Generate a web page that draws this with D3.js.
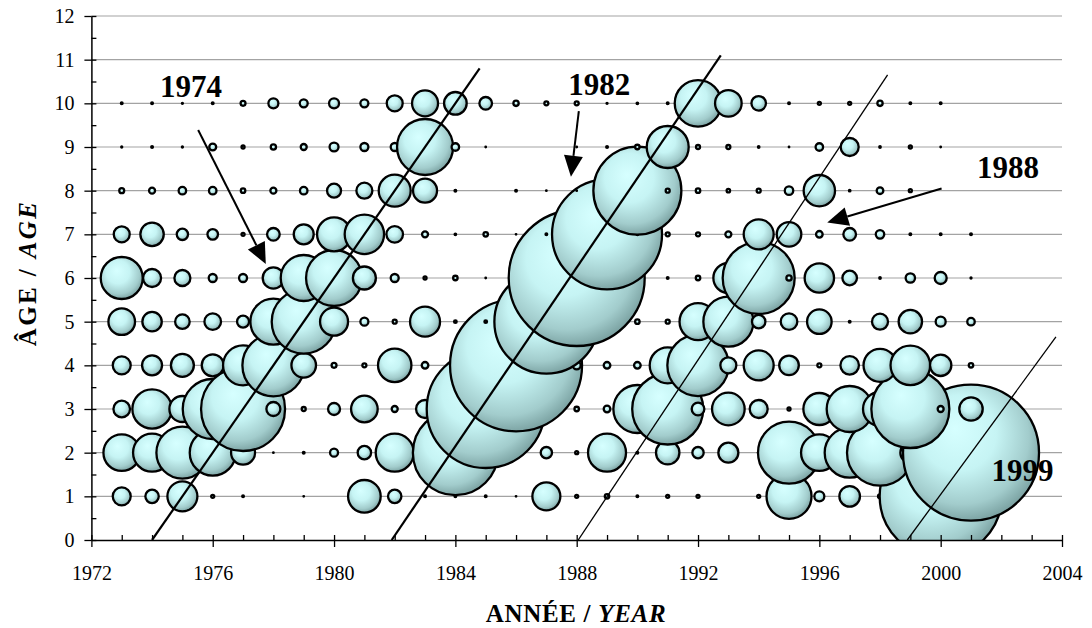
<!DOCTYPE html>
<html>
<head>
<meta charset="utf-8">
<script src="https://cdn.jsdelivr.net/npm/d3@7"></script>
<style>
  body { margin: 0; background: #fff; }
  svg text { font-family: "Liberation Serif", "Times New Roman", serif; fill: #000; }
</style>
</head>
<body>
<div id="chart"></div>
<script>
// years on the x axis, one value per year in each age row
var years = [1973, 1974, 1975, 1976, 1977, 1978, 1979, 1980, 1981, 1982,
             1983, 1984, 1985, 1986, 1987, 1988, 1989, 1990, 1991, 1992,
             1993, 1994, 1995, 1996, 1997, 1998, 1999, 2000, 2001];
var ages = [1, 2, 3, 4, 5, 6, 7, 8, 9, 10];

// bubble sizes (relative abundance)
var age1  = [81, 45, 225, 2.3, 1, 0, 0.5, 0, 266, 45, 1, 1, 1, 0.5, 196, 2.3, 5, 1, 2.3, 2.3, 0, 2.3, 506, 25, 106, 4, 4, 3721, 0];
var age2  = [335, 361, 676, 529, 144, 0.5, 1, 16, 45, 361, 1, 1806, 1, 0, 32, 2.3, 361, 1, 137, 32, 100, 1, 961, 335, 625, 1089, 100, 1, 4624];
var age3  = [69, 388, 169, 900, 1764, 49, 4, 36, 177, 9, 81, 1, 3481, 1, 1, 5, 11, 576, 1260, 40, 266, 81, 2.3, 256, 529, 289, 1521, 9, 137];
var age4  = [81, 100, 132, 121, 400, 961, 151, 6, 4, 279, 11, 1, 1, 4356, 1, 16, 11, 11, 324, 942, 64, 225, 96, 4, 86, 272, 392, 114, 5];
var age5  = [177, 94, 53, 69, 36, 529, 1024, 196, 16, 4, 225, 1.7, 1.7, 1, 2704, 1, 1, 5, 4, 342, 625, 45, 69, 151, 1, 64, 137, 25, 14];
var age6  = [441, 81, 64, 16, 16, 114, 529, 784, 132, 16, 2.3, 5, 0.5, 1, 1, 4624, 1, 1, 1, 5, 225, 1296, 7, 216, 53, 0.9, 22, 36, 0.7];
var age7  = [64, 137, 32, 28, 2.3, 40, 100, 289, 388, 69, 9, 0.9, 5, 0.5, 1, 1, 3025, 1, 4, 4, 9, 225, 151, 11, 40, 18, 1, 1, 1];
var age8  = [6, 9, 14, 14, 5, 9, 14, 49, 64, 256, 144, 1, 0, 1, 0.5, 0.5, 1, 1936, 4, 5, 2.9, 4, 18, 246, 0.9, 11, 2.3, 0, 0];
var age9  = [0.7, 1, 0.7, 12, 2.3, 7, 9, 20, 16, 16, 784, 14, 0.5, 0, 0, 0.5, 1, 5, 441, 4, 4, 0.9, 0.5, 14, 81, 0.9, 2.3, 0.5, 0];
var age10 = [1, 1, 0.7, 1, 6, 25, 16, 25, 16, 64, 169, 128, 40, 7, 4, 4, 0.7, 0.9, 1, 543, 177, 53, 1, 2.3, 2.3, 7, 1, 1, 0];

// year classes followed through the years (start and end as [year, age])
var cohortNames = ["1974", "1982", "1988", "1999"];
var cohortFrom = [[1974, 0], [1981.9, 0], [1988.05, 0], [1998.9, 0]];
var cohortTo   = [[1984.8, 10.8], [1992.75, 11.1], [1998.25, 10.65], [2003.8, 4.65]];

var xMajor = [1972, 1976, 1980, 1984, 1988, 1992, 1996, 2000, 2004];

function drawChart() {
    var width = 1092,
        height = 628;

    var svg = d3.select("#chart")
        .append("svg")
        .attr("width", width)
        .attr("height", height);

    var x = d3.scaleLinear().domain([1972, 2004]).range([91.4, 1062]);
    var y = d3.scaleLinear().domain([0, 12]).range([540, 16]);
    var size = d3.scaleSqrt().domain([0, 4900]).range([0, 70]);

    var rows = [age1, age2, age3, age4, age5, age6, age7, age8, age9, age10];

    //flatten into one list, drawn age by age so upper rows sit on top
    var cells = [];
    ages.forEach(function (a, i) {
        years.forEach(function (yr, j) {
            if (rows[i][j] > 0) cells.push({ year: yr, age: a, value: rows[i][j] });
        });
    });

    var defs = svg.append("defs");
    var grad = defs.append("radialGradient")
        .attr("id", "bubbleFill")
        .attr("cx", 0.44).attr("cy", 0.4).attr("r", 0.62)
        .attr("fx", 0.38).attr("fy", 0.32);
    grad.append("stop").attr("offset", "0%").attr("stop-color", "#d6ffff");
    grad.append("stop").attr("offset", "45%").attr("stop-color", "#c6f4f4");
    grad.append("stop").attr("offset", "80%").attr("stop-color", "#a2cccc");
    grad.append("stop").attr("offset", "100%").attr("stop-color", "#789f9f");

    defs.append("clipPath").attr("id", "plotClip")
        .append("rect")
        .attr("x", x(1972)).attr("y", y(12))
        .attr("width", x(2004) - x(1972))
        .attr("height", y(0) - y(12));

    //horizontal gridlines
    svg.append("g")
        .selectAll("line")
        .data(d3.range(1, 13))
        .join("line")
        .attr("x1", x(1972)).attr("x2", x(2004))
        .attr("y1", function (d) { return y(d); })
        .attr("y2", function (d) { return y(d); })
        .attr("stroke", "#a3a3a3")
        .attr("stroke-width", 1.2);

    //bubbles
    svg.append("g")
        .attr("clip-path", "url(#plotClip)")
        .selectAll("circle")
        .data(cells)
        .join("circle")
        .attr("cx", function (d) { return x(d.year); })
        .attr("cy", function (d) { return y(d.age); })
        .attr("r", function (d) { return size(d.value); })
        .attr("fill", "url(#bubbleFill)")
        .attr("stroke", "#000")
        .attr("stroke-width", function (d) { return Math.min(2.3, 2 * size(d.value)); });

    //cohort lines
    svg.append("g")
        .attr("clip-path", "url(#plotClip)")
        .selectAll("line")
        .data(cohortNames)
        .join("line")
        .attr("x1", function (d, i) { return x(cohortFrom[i][0]); })
        .attr("y1", function (d, i) { return y(cohortFrom[i][1]); })
        .attr("x2", function (d, i) { return x(cohortTo[i][0]); })
        .attr("y2", function (d, i) { return y(cohortTo[i][1]); })
        .attr("stroke", "#000")
        .attr("stroke-width", function (d, i) { return i < 2 ? 2.2 : 1.3; });

    //labels and arrows, placed in [year, age]
    var notes = [
        { text: "1974", at: [1975.28, 10.14], from: [1975.52, 9.39], to: [1977.75, 6.32] },
        { text: "1982", at: [1988.74, 10.19], from: [1988.07, 9.82], to: [1987.81, 8.32] },
        { text: "1988", at: [2002.22, 8.29], from: [2000.03, 8.05], to: [1996.26, 7.27] },
        { text: "1999", at: [2002.7, 1.36] }
    ];

    var ann = svg.append("g");
    notes.forEach(function (n) {
        ann.append("text")
            .attr("x", x(n.at[0]))
            .attr("y", y(n.at[1]))
            .attr("text-anchor", "middle")
            .attr("font-size", 31)
            .attr("font-weight", "bold")
            .text(n.text);

        if (!n.from) return;
        var x0 = x(n.from[0]), y0 = y(n.from[1]),
            x1 = x(n.to[0]), y1 = y(n.to[1]);
        var len = Math.sqrt((x1 - x0) * (x1 - x0) + (y1 - y0) * (y1 - y0));
        var ux = (x1 - x0) / len, uy = (y1 - y0) / len;
        var head = 21, half = 9.5;
        var bx = x1 - ux * head, by = y1 - uy * head;
        ann.append("line")
            .attr("x1", x0).attr("y1", y0)
            .attr("x2", bx).attr("y2", by)
            .attr("stroke", "#000")
            .attr("stroke-width", 2);
        ann.append("polygon")
            .attr("points", [
                [x1, y1],
                [bx - uy * half, by + ux * half],
                [bx + uy * half, by - ux * half]
            ].map(function (p) { return p.join(","); }).join(" "))
            .attr("fill", "#000");
    });

    //axes
    var yAxis = svg.append("g")
        .attr("transform", "translate(" + x(1972) + ",0)")
        .call(d3.axisLeft(y).tickValues(d3.range(0, 13)).tickSize(7).tickSizeOuter(0).tickPadding(10).tickFormat(d3.format("d")));
    svg.append("g")
        .attr("transform", "translate(" + x(1972) + ",0)")
        .call(d3.axisRight(y).tickValues(d3.range(0, 12.5, 0.5)).tickSize(5).tickSizeOuter(0).tickFormat(""))
        .select(".domain").remove();

    var xAxis = svg.append("g")
        .attr("transform", "translate(0," + y(0) + ")")
        .call(d3.axisBottom(x).tickValues(xMajor).tickSize(7).tickSizeOuter(0).tickPadding(19).tickFormat(d3.format("d")));
    svg.append("g")
        .attr("transform", "translate(0," + y(0) + ")")
        .call(d3.axisTop(x).tickValues(d3.range(1972, 2005)).tickSize(5).tickSizeOuter(0).tickFormat(""))
        .select(".domain").remove();

    svg.selectAll(".tick line").attr("stroke", "#000").attr("stroke-width", 1.3);
    svg.selectAll(".domain").attr("stroke", "#000").attr("stroke-width", 1.5);
    [xAxis, yAxis].forEach(function (g) {
        g.attr("font-family", null).attr("font-size", null);
        g.selectAll("text").attr("font-size", 20).attr("fill", "#000");
    });

    //axis titles
    var xt = svg.append("text")
        .attr("x", 576)
        .attr("y", 622)
        .attr("text-anchor", "middle")
        .attr("font-size", 25)
        .attr("font-weight", "bold")
        .attr("letter-spacing", 0.7);
    xt.append("tspan").text("ANNÉE / ");
    xt.append("tspan").attr("font-style", "italic").text("YEAR");

    var yt = svg.append("text")
        .attr("transform", "translate(36,273) rotate(-90)")
        .attr("text-anchor", "middle")
        .attr("font-size", 25)
        .attr("font-weight", "bold")
        .attr("letter-spacing", 2.4);
    yt.append("tspan").text("ÂGE / ");
    yt.append("tspan").attr("font-style", "italic").text("AGE");
}

window.onload = drawChart;
</script>
</body>
</html>
